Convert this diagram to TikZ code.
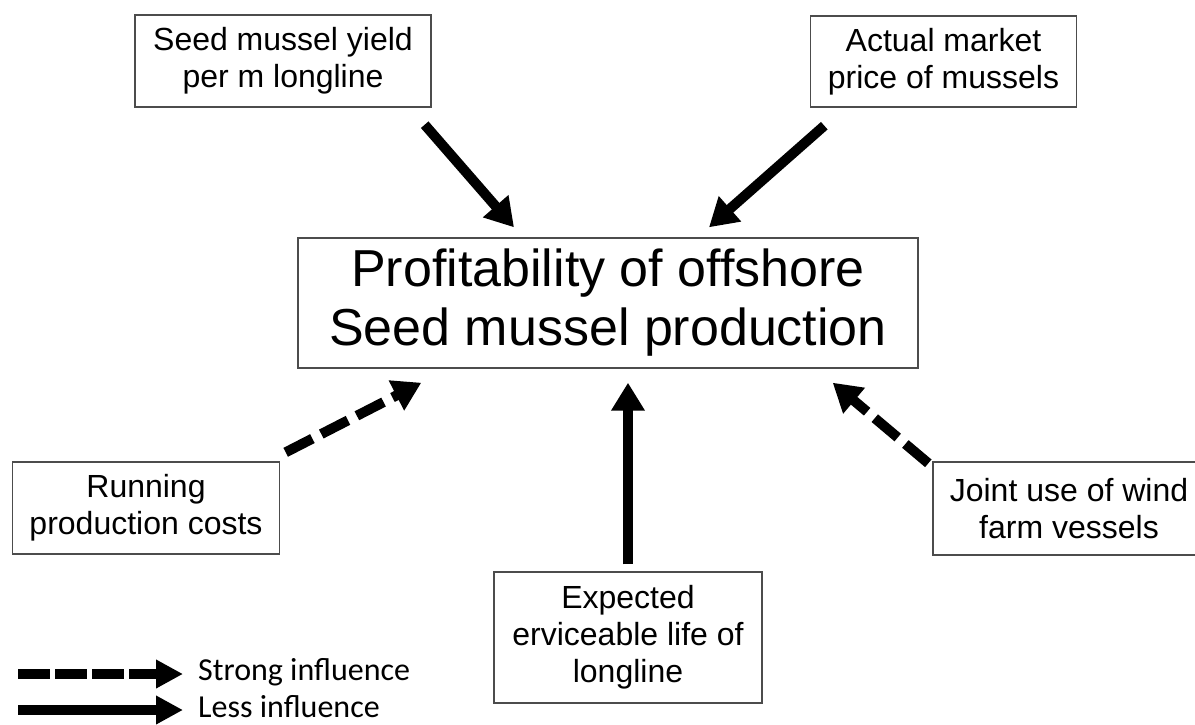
\documentclass[tikz,border=0pt]{standalone}
\usepackage{fontspec}
\setmainfont{Liberation Sans}
\newfontfamily\legendfont{Carlito}
\usetikzlibrary{arrows.meta,calc}
\begin{document}
\begin{tikzpicture}[x=1pt,y=-1pt,
  box/.style={draw=black!70, line width=1.4pt, fill=white, align=center, inner sep=0pt,
              font=\fontsize{32}{37}\selectfont},
  big/.style={font=\fontsize{52}{59}\selectfont},
  infl/.style={line width=10pt, -{Triangle[length=28pt,width=32pt]}},
  strongarrow/.style={infl, dash pattern=on 30pt off 10pt},
  leginfl/.style={line width=10pt, -{Triangle[length=27pt,width=27pt]}},
  legstrong/.style={leginfl, dash pattern=on 32pt off 5pt},
  legtext/.style={font=\legendfont\fontsize{32}{36}\selectfont, anchor=west, inner sep=0pt}]
\useasboundingbox (0,0) rectangle (1195,724);
\clip (0,0) rectangle (1195,724);

\node[box, minimum width=296pt, minimum height=92pt] (yield) at (283,61) {Seed mussel yield\\per m longline};
\node[box, minimum width=266pt, minimum height=91pt] (price) at (943.5,61.5) {Actual market\\price of mussels};
\node[box, big, minimum width=620pt, minimum height=130pt] (profit) at (608,303) {Profitability of offshore\\Seed mussel production};
\node[box, minimum width=267pt, minimum height=92pt] (costs) at (146,508) {Running\\production costs};
\node[box, minimum width=268pt, minimum height=131pt] (life) at (628,637.5) {Expected\\erviceable life of\\longline};
\node[box, minimum width=272pt, minimum height=93pt] (vessels) at (1069,508.5) {Joint use of wind\\farm vessels};

\draw[infl] ($(yield.south east)+(-7,17)$) -- ($(profit.north)+(-94,-10)$);
\draw[infl] ($(price.south west)+(14.5,18)$) -- ($(profit.north)+(101,-10)$);
\draw[strongarrow] ($(costs.north east)+(5.5,-9)$) -- ($(profit.south west)+(124,14)$);
\draw[infl] ($(life.north)+(0,-7)$) -- ($(profit.south)+(20,14)$);
\draw[strongarrow] ($(vessels.north west)+(-4,2)$) -- ($(profit.south east)+(-86,14)$);

\node[legtext] (strong) at (198,672) {Strong influence};
\node[legtext] (less) at (198,707) {Less influence};
\draw[legstrong] ($(strong.west)+(-180,2)$) -- ($(strong.west)+(-15,2)$);
\draw[leginfl] ($(less.west)+(-180,3)$) -- ($(less.west)+(-15,3)$);
\end{tikzpicture}
\end{document}
